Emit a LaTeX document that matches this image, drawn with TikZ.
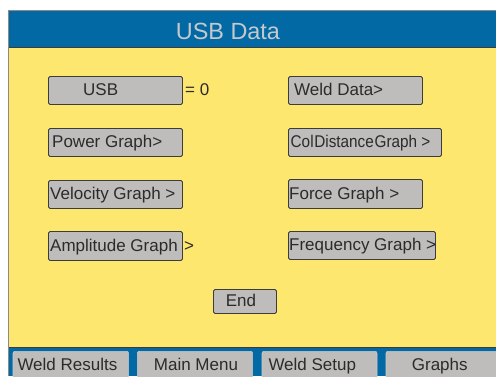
\documentclass[tikz,border=0pt]{standalone}
\usepackage{fontspec}
\setmainfont{Liberation Sans}
\usepackage{tikz}
\usetikzlibrary{positioning}
\usepackage{xcolor}
\definecolor{PanelBlue}{HTML}{0369A4}
\definecolor{PanelYellow}{HTML}{FDE76F}
\definecolor{KeyGray}{HTML}{BEBDBB}
\definecolor{KeyEdge}{HTML}{3C3C3C}
\definecolor{FrameGray}{HTML}{8A8A8A}
\definecolor{TitleGray}{HTML}{C5C9CC}
\definecolor{InkGray}{HTML}{2B2B2B}

\begin{document}
\begin{tikzpicture}[x=1pt,y=-1pt,
  key/.style={draw=KeyEdge,fill=KeyGray,line width=0.9pt,rounded corners=1.5pt,inner sep=0pt,anchor=north west},
  tab/.style={draw=KeyGray!80!white,fill=KeyGray,line width=0.6pt,rounded corners=2pt,inner sep=0pt,anchor=north west,minimum height=30pt},
  txt/.style={anchor=base west,inner sep=0pt,text=InkGray,font=\fontsize{17}{20}\selectfont}]
\useasboundingbox (0,0) rectangle (496,376);
% frame, header and panel
\fill[white] (0,0) rectangle (496,376);
\fill[PanelBlue] (9,11) rectangle (496,47.5);
\fill[PanelYellow] (9,47.5) rectangle (496,347);
\fill[PanelBlue] (9,347) rectangle (496,376);
\draw[KeyEdge,line width=0.8pt] (9,47.5) -- (496,47.5);
\draw[KeyEdge,line width=0.8pt] (9,347.3) -- (496,347.3);
\draw[FrameGray,line width=1.6pt] (8.5,376) -- (8.5,10.5) -- (496,10.5);
\node[anchor=base,inner sep=0pt,text=TitleGray,font=\fontsize{23.4}{26}\selectfont] (title) at (228,39.3) {USB Data};

% left column
\node[key,minimum width=134pt,minimum height=28pt] (usb) at (48,76) {};
\node[txt] (usbT) at (83,95.5) {USB};
\node[txt] (usbV) at (185,95.5) {= 0};
\node[key,minimum width=134pt,minimum height=28pt] (pwr) at (48,128) {};
\node[txt] (pwrT) at (52,147.5) {Power Graph>};
\node[key,minimum width=134pt,minimum height=28pt] (vel) at (48,180) {};
\node[txt] (velT) at (50,199.5) {Velocity Graph >};
\node[key,minimum width=134pt,minimum height=29pt] (amp) at (48,231) {};
\node[txt] (ampT) at (50,251) {Amplitude Graph};
\node[txt] (ampG) at (184,251) {>};

% right column
\node[key,minimum width=134pt,minimum height=28pt] (weld) at (288,76) {};
\node[txt] (weldT) at (294,95.5) {Weld Data>};
\node[key,minimum width=153pt,minimum height=28pt] (col) at (288,128) {};
\node[txt] (colT) at (290.5,147.5) {\scalebox{0.9}[1]{Col\hspace{0.8pt}Distance\hspace{0.8pt}Graph >}};
\node[key,minimum width=134pt,minimum height=29pt] (frc) at (288,179) {};
\node[txt] (frcT) at (289,199) {Force Graph >};
\node[key,minimum width=147pt,minimum height=28pt] (frq) at (288,231) {};
\node[txt] (frqT) at (289,250.5) {Frequency Graph >};

% end key
\node[key,minimum width=63pt,minimum height=24pt] (end) at (213,289) {};
\node[txt,anchor=base] (endT) at (241,306.5) {End};

% bottom tabs
\node[tab,minimum width=115.6pt] (wres) at (12.7,351) {};
\node[txt] (wresT) at (17.3,370.7) {Weld Results};
\node[tab,minimum width=115.3pt] (menu) at (137,351) {};
\node[txt] (menuT) at (153.7,370.7) {Main Menu};
\node[tab,minimum width=115pt] (wset) at (261.7,351) {};
\node[txt] (wsetT) at (268.3,370.7) {Weld Setup};
\node[tab,minimum width=115pt] (grph) at (385.7,351) {};
\node[txt] (grphT) at (411.7,370.7) {Graphs};
\end{tikzpicture}
\end{document}
